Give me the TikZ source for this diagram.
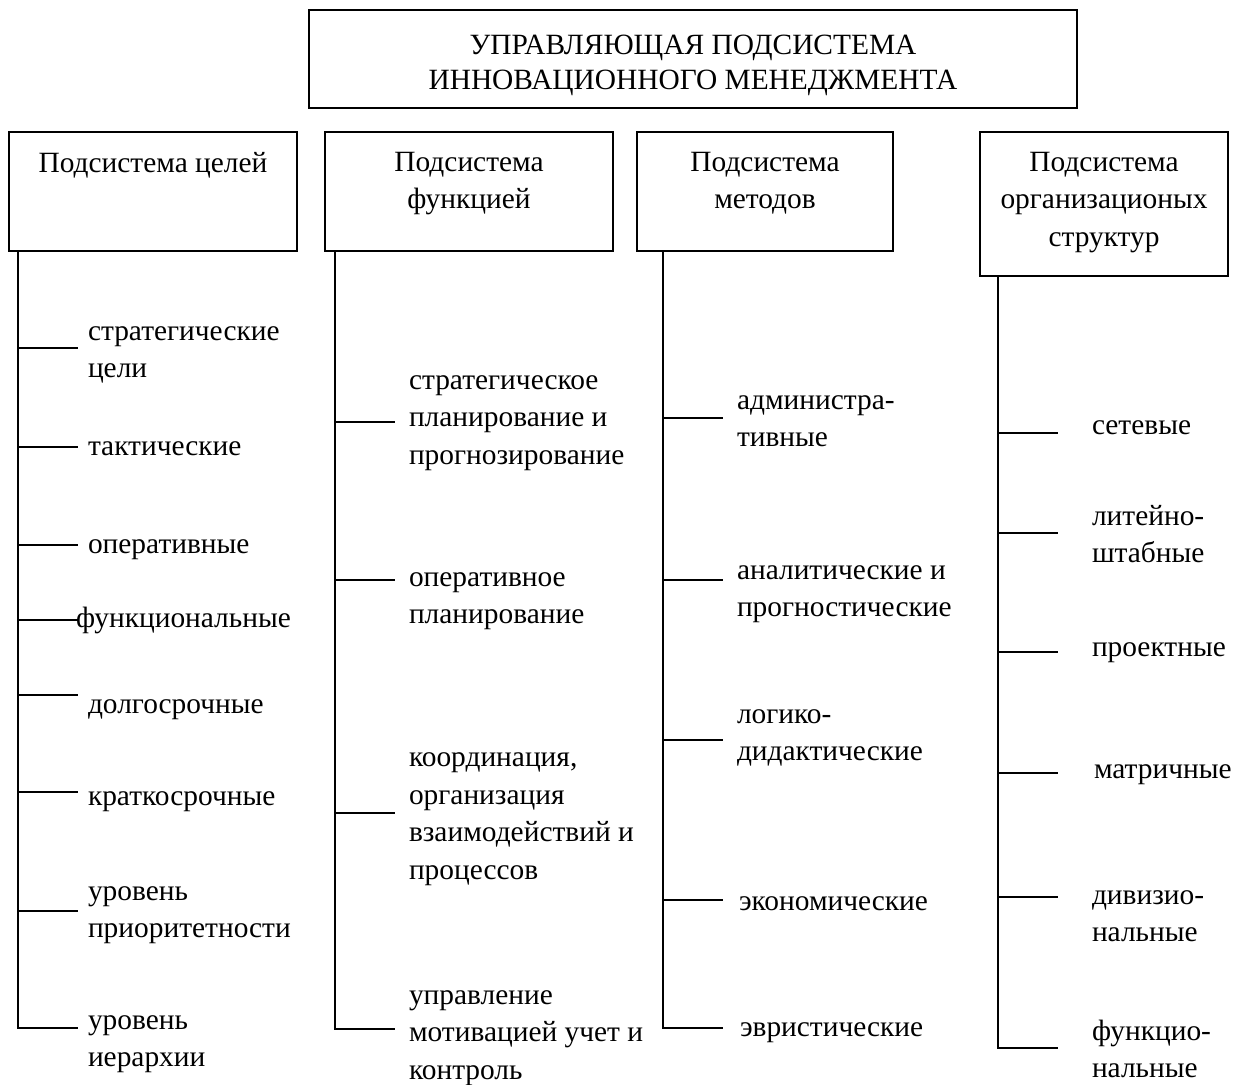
\documentclass[tikz,border=0pt]{standalone}
\usepackage{fontspec}
\setmainfont{Liberation Serif}
\begin{document}
\begin{tikzpicture}[x=1pt,y=-1pt,
  every node/.style={inner sep=0pt, outer sep=0pt, font=\fontsize{29.4}{37.5}\selectfont},
  box/.style={draw, line width=1.1pt, anchor=north west},
  head/.style={anchor=north, align=center},
  item/.style={anchor=west, align=left},
  ln/.style={line width=1.1pt}]
\useasboundingbox (0,0) rectangle (1236,1084);
% top box
\node[box, minimum width=768pt, minimum height=98pt] (top) at (309,10) {};
\node[align=center, font=\fontsize{29.4}{35}\selectfont] (toptxt) at (693,65) {УПРАВЛЯЮЩАЯ ПОДСИСТЕМА\\ИННОВАЦИОННОГО МЕНЕДЖМЕНТА};
% column boxes
\node[box, minimum width=288pt, minimum height=119pt] (b1) at (9,132) {};
\node[box, minimum width=288pt, minimum height=119pt] (b2) at (325,132) {};
\node[box, minimum width=256pt, minimum height=119pt] (b3) at (637,132) {};
\node[box, minimum width=248pt, minimum height=144pt] (b4) at (980,132) {};
\node[head] (h1) at (153,152) {Подсистема целей};
\node[head] (h2) at (469,152) {Подсистема\\функцией};
\node[head] (h3) at (765,152) {Подсистема\\методов};
\node[head] (h4) at (1104,152) {Подсистема\\организационых\\структур};
% column 1
\coordinate (v1) at (18,251);
\node[item] (a1) at (88,355) {стратегические\\цели};
\node[item] (a2) at (88,449) {тактические};
\node[item] (a3) at (88,550) {оперативные};
\node[item] (a4) at (76,620) {функциональные};
\node[item] (a5) at (88,710) {долгосрочные};
\node[item] (a6) at (88,802) {краткосрочные};
\node[item] (a7) at (88,915) {уровень\\приоритетности};
\node[item] (a8) at (88,1044) {уровень\\иерархии};
\draw[ln] (v1) -- (18,1028) -- (78,1028);
\foreach \y in {348,447,545,620,695,792,911}{\draw[ln] (18,\y) -- (78,\y);}
% column 2
\coordinate (v2) at (335,251);
\node[item] (c1) at (409,423) {стратегическое\\планирование и\\прогнозирование};
\node[item] (c2) at (409,601) {оперативное\\планирование};
\node[item] (c3) at (409,819) {координация,\\организация\\взаимодействий и\\процессов};
\node[item] (c4) at (409,1038) {управление\\мотивацией учет и\\контроль};
\draw[ln] (v2) -- (335,1029) -- (395,1029);
\foreach \y in {422,580,813}{\draw[ln] (335,\y) -- (395,\y);}
% column 3
\coordinate (v3) at (663,251);
\node[item] (m1) at (737,421) {администра-\\тивные};
\node[item] (m2) at (737,594) {аналитические и\\прогностические};
\node[item] (m3) at (737,738) {логико-\\дидактические};
\node[item] (m4) at (739,904) {экономические};
\node[item] (m5) at (740,1033) {эвристические};
\draw[ln] (v3) -- (663,1028) -- (723,1028);
\foreach \y in {418,580,740,900}{\draw[ln] (663,\y) -- (723,\y);}
% column 4
\coordinate (v4) at (998,276);
\node[item] (s1) at (1092,428) {сетевые};
\node[item] (s2) at (1092,534) {литейно-\\штабные};
\node[item] (s3) at (1092,653) {проектные};
\node[item] (s4) at (1094,775) {матричные};
\node[item] (s5) at (1092,916) {дивизио-\\нальные};
\node[item] (s6) at (1092,1049) {функцио-\\нальные};
\draw[ln] (v4) -- (998,1048) -- (1058,1048);
\foreach \y in {433,533,652,773,897}{\draw[ln] (998,\y) -- (1058,\y);}
\end{tikzpicture}
\end{document}
